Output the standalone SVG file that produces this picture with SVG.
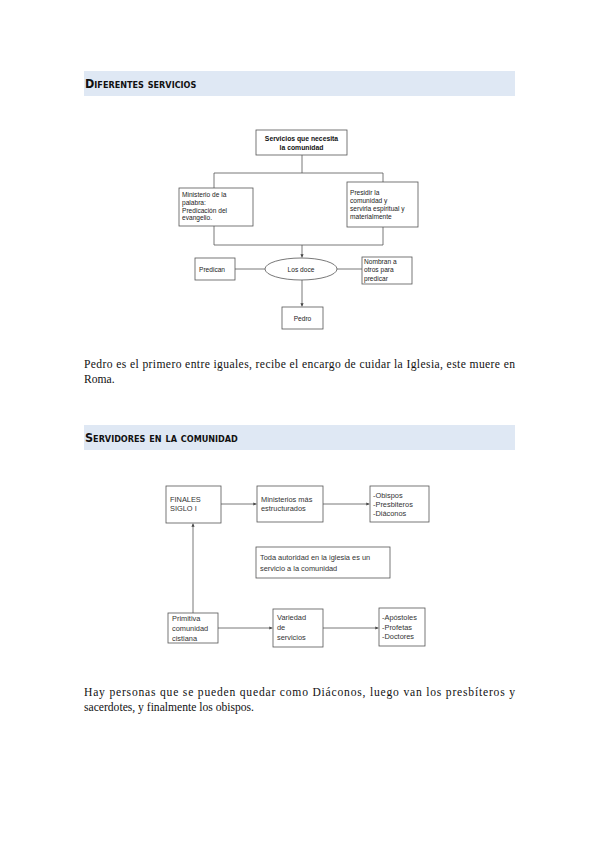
<svg xmlns="http://www.w3.org/2000/svg" width="599" height="848" viewBox="0 0 599 848">
<style>
.band{fill:#dfe8f4}
.hd{font-family:"DejaVu Sans Condensed","DejaVu Sans",sans-serif;font-weight:bold;font-variant:small-caps;font-size:12.5px;fill:#111}
.box{fill:#fff;stroke:#555;stroke-width:0.8}
.ln{fill:none;stroke:#555;stroke-width:0.8}
.t1{font-family:"Liberation Sans",Arial,sans-serif;font-size:6.6px;fill:#222}
.t1b{font-family:"Liberation Sans",Arial,sans-serif;font-size:6.8px;font-weight:bold;fill:#111}
.t2{font-family:"Liberation Sans",Arial,sans-serif;font-size:7.4px;fill:#333}
.p{font-family:"Liberation Serif","Times New Roman",serif;font-size:11.6px;fill:#111}
</style>
<defs>
<marker id="ah" viewBox="0 0 6 6" refX="6" refY="3" markerWidth="4" markerHeight="4" orient="auto">
<path d="M0,0 L6,3 L0,6 z" fill="#444"/>
</marker>
</defs>
<rect width="599" height="848" fill="#fff"/>

<g id="header1">
<rect class="band" x="84" y="71" width="431" height="25"/>
<text class="hd" x="85" y="88">Diferentes servicios</text>
</g>

<g id="connectors1">
<path class="ln" d="M302,155 V173 M214,173 H383 M214,173 V188 M383,173 V182"/>
<path class="ln" d="M214,226 V245 M383,227 V245 M214,245 H383"/>
<path class="ln" d="M302,245 V257.5" marker-end="url(#ah)"/>
<path class="ln" d="M235,269 H265 M337,269 H362"/>
<path class="ln" d="M302,280 V306.5" marker-end="url(#ah)"/>
</g>

<g id="n-servicios">
<rect class="box" x="256" y="130" width="91" height="25"/>
<text class="t1b" x="301.5" y="141" text-anchor="middle">Servicios que necesita</text>
<text class="t1b" x="301.5" y="149.5" text-anchor="middle">la comunidad</text>
</g>
<g id="n-ministerio">
<rect class="box" x="179" y="188" width="74" height="38"/>
<text class="t1" x="182" y="197">Ministerio de la</text>
<text class="t1" x="182" y="205">palabra:</text>
<text class="t1" x="182" y="212.5">Predicación del</text>
<text class="t1" x="182" y="220">evangelio.</text>
</g>
<g id="n-presidir">
<rect class="box" x="347" y="182" width="71" height="45"/>
<text class="t1" x="350" y="194.5">Presidir la</text>
<text class="t1" x="350" y="202.5">comunidad y</text>
<text class="t1" x="350" y="210.5">servirla espiritual y</text>
<text class="t1" x="350" y="219">materialmente</text>
</g>
<g id="n-predican">
<rect class="box" x="195" y="258" width="40" height="22"/>
<text class="t1" x="199" y="271.5">Predican</text>
</g>
<g id="n-losdoce">
<ellipse class="box" cx="301" cy="269" rx="36" ry="11"/>
<text class="t1" x="301" y="271.5" text-anchor="middle">Los doce</text>
</g>
<g id="n-nombran">
<rect class="box" x="362" y="257" width="50" height="27"/>
<text class="t1" x="364" y="264">Nombran a</text>
<text class="t1" x="364" y="272">otros para</text>
<text class="t1" x="364" y="281">predicar</text>
</g>
<g id="n-pedro">
<rect class="box" x="282" y="307" width="41" height="22"/>
<text class="t1" x="302.5" y="320.5" text-anchor="middle">Pedro</text>
</g>

<g id="para1">
<text class="p" x="84" y="368" textLength="431" lengthAdjust="spacing">Pedro es el primero entre iguales, recibe el encargo de cuidar la Iglesia, este muere en</text>
<text class="p" x="84" y="383">Roma.</text>
</g>

<g id="header2">
<rect class="band" x="84" y="425" width="431" height="25"/>
<text class="hd" x="85" y="442">Servidores en la comunidad</text>
</g>

<g id="connectors2">
<path class="ln" d="M221,504 H256.5" marker-end="url(#ah)"/>
<path class="ln" d="M323,504 H369.5" marker-end="url(#ah)"/>
<path class="ln" d="M193,613 V523.5" marker-end="url(#ah)"/>
<path class="ln" d="M218,628 H272.5" marker-end="url(#ah)"/>
<path class="ln" d="M323,628 H378.5" marker-end="url(#ah)"/>
</g>

<g id="n-finales">
<rect class="box" x="166" y="486" width="55" height="37"/>
<text class="t2" x="170" y="502">FINALES</text>
<text class="t2" x="170" y="511">SIGLO I</text>
</g>
<g id="n-ministerios">
<rect class="box" x="257" y="486" width="66" height="36"/>
<text class="t2" x="261" y="502">Ministerios más</text>
<text class="t2" x="261" y="511">estructurados</text>
</g>
<g id="n-obispos">
<rect class="box" x="370" y="486" width="59" height="36"/>
<text class="t2" x="373" y="498">-Obispos</text>
<text class="t2" x="373" y="507">-Presbiteros</text>
<text class="t2" x="373" y="516">-Diáconos</text>
</g>
<g id="n-toda">
<rect class="box" x="256" y="547" width="134" height="31"/>
<text class="t2" x="260" y="560">Toda autoridad en la iglesia es un</text>
<text class="t2" x="260" y="571">servicio a la comunidad</text>
</g>
<g id="n-primitiva">
<rect class="box" x="168" y="613" width="50" height="30"/>
<text class="t2" x="172" y="621">Primitiva</text>
<text class="t2" x="172" y="631">comunidad</text>
<text class="t2" x="172" y="641">cistiana</text>
</g>
<g id="n-variedad">
<rect class="box" x="273" y="609" width="50" height="38"/>
<text class="t2" x="277" y="620">Variedad</text>
<text class="t2" x="277" y="630">de</text>
<text class="t2" x="277" y="640">servicios</text>
</g>
<g id="n-apostoles">
<rect class="box" x="379" y="608" width="46" height="38"/>
<text class="t2" x="382" y="620">-Apóstoles</text>
<text class="t2" x="382" y="629.5">-Profetas</text>
<text class="t2" x="382" y="639">-Doctores</text>
</g>

<g id="para2">
<text class="p" x="84" y="696" textLength="431" lengthAdjust="spacing">Hay personas que se pueden quedar como Diáconos, luego van los presbíteros y</text>
<text class="p" x="84" y="711">sacerdotes, y finalmente los obispos.</text>
</g>
</svg>
